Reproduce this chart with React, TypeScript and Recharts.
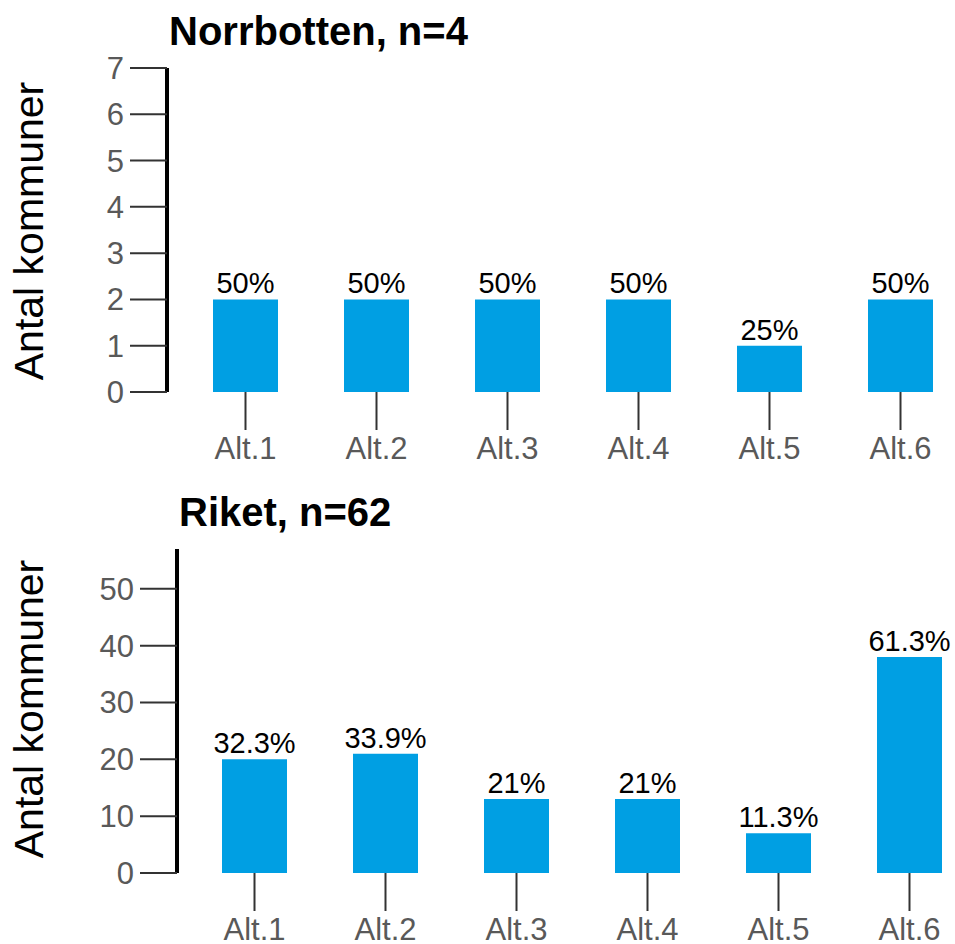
import React from 'react';
import { BarChart, Bar, XAxis, YAxis, LabelList } from 'recharts';

const categories = ['Alt.1', 'Alt.2', 'Alt.3', 'Alt.4', 'Alt.5', 'Alt.6'];
const norrbottenValues = [2, 2, 2, 2, 1, 2];
const riketValues = [20, 21, 13, 13, 7, 38];
const norrbottenN = 4;
const riketN = 62;
const norrbottenTicks = [0, 1, 2, 3, 4, 5, 6, 7];
const riketTicks = [0, 10, 20, 30, 40, 50];

const FONT = '"Liberation Sans", Arial, sans-serif';
const BAR = '#009FE3';

const toRows = (values: number[]) => categories.map((name, i) => ({ name, value: values[i] }));

const pct = (v: number, n: number) => `${Number(((v / n) * 100).toFixed(1))}%`;

function Panel({
  title,
  values,
  n,
  ticks,
  domainMax,
  top,
  height,
  marginTop,
  xHeight,
  yWidth,
  padLeft,
  labelY,
}: {
  title: string;
  values: number[];
  n: number;
  ticks: number[];
  domainMax: number;
  top: number;
  height: number;
  marginTop: number;
  xHeight: number;
  yWidth: number;
  padLeft: number;
  labelY: number;
}) {
  const right = 980 - (yWidth + padLeft + 786);
  return (
    <div style={{ position: 'absolute', left: 0, top, width: 980, height }}>
      <div
        style={{
          position: 'absolute',
          left: yWidth + 2,
          top: marginTop - 57,
          fontFamily: FONT,
          fontWeight: 'bold',
          fontSize: 40,
          lineHeight: '40px',
          color: '#000',
          whiteSpace: 'nowrap',
        }}
      >
        {title}
      </div>
      <div
        style={{
          position: 'absolute',
          left: 29 - 200,
          top: labelY - 20,
          width: 400,
          height: 40,
          lineHeight: '40px',
          textAlign: 'center',
          transform: 'rotate(-90deg)',
          fontFamily: FONT,
          fontSize: 41,
          color: '#000',
          whiteSpace: 'nowrap',
        }}
      >
        Antal kommuner
      </div>
      <BarChart
        width={980}
        height={height}
        data={toRows(values)}
        margin={{ top: marginTop, right, bottom: 0, left: 0 }}
        style={{ fontFamily: FONT }}
      >
        <XAxis
          dataKey="name"
          height={xHeight}
          axisLine={false}
          tickLine={{ stroke: '#333', strokeWidth: 2 }}
          tickSize={38}
          tickMargin={7}
          padding={{ left: padLeft, right: 0 }}
          tick={{ fill: '#595959', fontSize: 31, fontFamily: FONT }}
          interval={0}
        />
        <YAxis
          width={yWidth}
          domain={[0, domainMax]}
          ticks={ticks}
          interval={0}
          axisLine={{ stroke: '#000', strokeWidth: 4 }}
          tickLine={{ stroke: '#333', strokeWidth: 2 }}
          tickSize={37}
          tickMargin={6}
          tick={{ fill: '#595959', fontSize: 31, fontFamily: FONT }}
        />
        <Bar dataKey="value" fill={BAR} barSize={65} isAnimationActive={false}>
          <LabelList
            dataKey="value"
            position="top"
            offset={6}
            formatter={(v: any) => pct(Number(v), n)}
            style={{ fill: '#000', fontSize: 29, fontFamily: FONT }}
          />
        </Bar>
      </BarChart>
    </div>
  );
}

export default function App() {
  return (
    <div
      style={{
        position: 'absolute',
        left: 0,
        top: 0,
        width: 955,
        height: 944,
        overflow: 'hidden',
        background: '#fff',
      }}
    >
      <Panel
        title="Norrbotten, n=4"
        values={norrbottenValues}
        n={norrbottenN}
        ticks={norrbottenTicks}
        domainMax={7}
        top={0}
        height={480}
        marginTop={68}
        xHeight={88}
        yWidth={167}
        padLeft={13}
        labelY={231}
      />
      <Panel
        title="Riket, n=62"
        values={riketValues}
        n={riketN}
        ticks={riketTicks}
        domainMax={57}
        top={480}
        height={463}
        marginTop={69}
        xHeight={70}
        yWidth={177}
        padLeft={12}
        labelY={229}
      />
    </div>
  );
}
